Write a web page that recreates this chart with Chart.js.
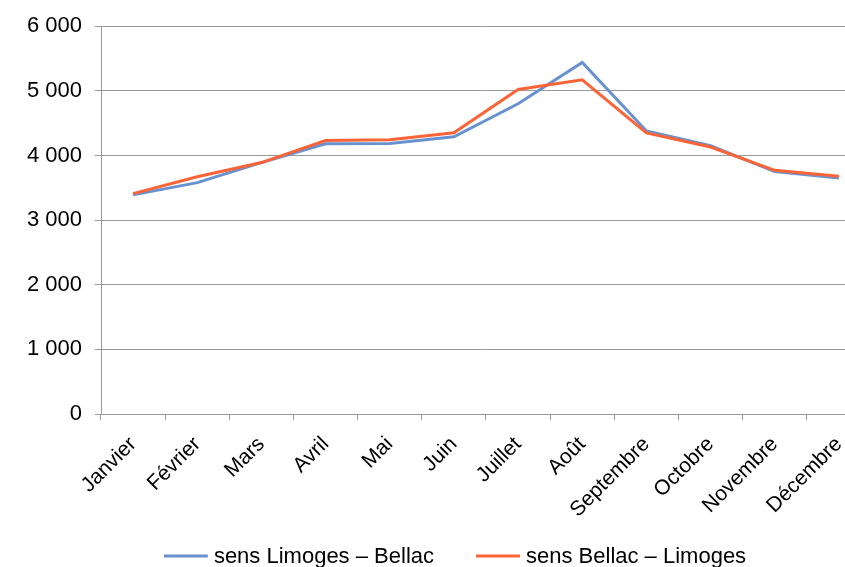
<!DOCTYPE html>
<html>
<head>
<meta charset="utf-8">
<script src="https://cdn.jsdelivr.net/npm/chart.js@4.4.1/dist/chart.umd.min.js"></script>
<style>
  html, body { margin: 0; padding: 0; overflow: hidden; background: #fff; }
</style>
</head>
<body>
<canvas id="chart" width="910" height="577"></canvas>
<script>
// monthly traffic, both directions
const months = ["Janvier", "Février", "Mars", "Avril", "Mai", "Juin",
  "Juillet", "Août", "Septembre", "Octobre", "Novembre", "Décembre"];
const limogesBellac = [3390, 3580, 3890, 4180, 4185, 4290, 4800, 5440, 4380, 4150, 3750, 3650];
const bellacLimoges = [3410, 3670, 3890, 4230, 4245, 4350, 5020, 5170, 4350, 4130, 3770, 3680];
const yMin = 0;
const yMax = 6000;
const yStep = 1000;

const gridColor = "#999999";
const fontFamily = "'Liberation Sans', Arial, sans-serif";
const tickFont = { family: fontFamily, size: 21 };
const valueFont = { family: fontFamily, size: 22 };

// "6000" -> "6 000"
function fmt(v) {
  return String(v).replace(/\B(?=(\d{3})+(?!\d))/g, " ");
}

// legend drawn by hand: short line, small gap, label, wide gap between items
const lineLegend = {
  id: "lineLegend",
  afterDraw(chart) {
    const ctx = chart.ctx;
    const lineLen = 44, textGap = 6, itemGap = 42;
    const y = chart.height - 21;
    ctx.save();
    ctx.font = `${valueFont.size}px ${fontFamily}`;
    ctx.textBaseline = "middle";
    ctx.textAlign = "left";
    const items = chart.data.datasets.map((ds) => ({
      ds: ds,
      w: ctx.measureText(ds.label).width,
    }));
    let total = items.reduce((s, it) => s + lineLen + textGap + it.w, 0);
    total += itemGap * (items.length - 1);
    let x = chart.width / 2 - total / 2;
    items.forEach((it) => {
      ctx.strokeStyle = it.ds.borderColor;
      ctx.lineWidth = it.ds.borderWidth;
      ctx.beginPath();
      ctx.moveTo(x, y);
      ctx.lineTo(x + lineLen, y);
      ctx.stroke();
      x += lineLen + textGap;
      ctx.fillStyle = "#000";
      ctx.fillText(it.ds.label, x, y + 1);
      x += it.w + itemGap;
    });
    ctx.restore();
  },
};

var data = {
  labels: months,
  datasets: [
    {
      label: "sens Limoges – Bellac",
      data: limogesBellac,
      borderColor: "#6892CF",
      backgroundColor: "#6892CF",
      borderWidth: 3,
      pointRadius: 0,
      tension: 0,
      order: 1,
    },
    {
      label: "sens Bellac – Limoges",
      data: bellacLimoges,
      borderColor: "#FB6436",
      backgroundColor: "#FB6436",
      borderWidth: 3,
      pointRadius: 0,
      tension: 0,
      order: 0, // orange drawn over blue
    },
  ],
};

var options = {
  responsive: false,
  animation: false,
  layout: { padding: { left: 0, right: 0, top: 25, bottom: 53 } },
  plugins: {
    tooltip: { enabled: false },
    legend: { display: false },
  },
  scales: {
    x: {
      offset: true,
      border: { display: true, color: gridColor },
      grid: {
        offset: true,
        drawOnChartArea: false,
        drawTicks: true,
        tickLength: 6,
        color: gridColor,
      },
      ticks: {
        color: "#000",
        font: tickFont,
        minRotation: 45,
        maxRotation: 45,
        autoSkip: false,
        padding: 12,
      },
      afterFit: (scale) => {
        scale.height = 110;
      },
    },
    y: {
      min: yMin,
      max: yMax,
      border: { display: true, color: gridColor },
      grid: {
        color: gridColor,
        drawTicks: true,
        tickLength: 6,
      },
      ticks: {
        stepSize: yStep,
        color: "#000",
        font: valueFont,
        padding: 13,
        callback: (v) => fmt(v),
      },
      afterFit: (scale) => {
        scale.width = 101;
      },
    },
    // empty right-hand margin, the plot runs on past the visible edge
    pad: {
      position: "right",
      display: true,
      grid: { display: false },
      border: { display: false },
      ticks: { display: false },
      afterFit: (scale) => {
        scale.width = 39;
      },
    },
  },
};

const chart = new Chart("chart", {
  type: "line",
  options: options,
  data: data,
  plugins: [lineLegend],
});
</script>
</body>
</html>
